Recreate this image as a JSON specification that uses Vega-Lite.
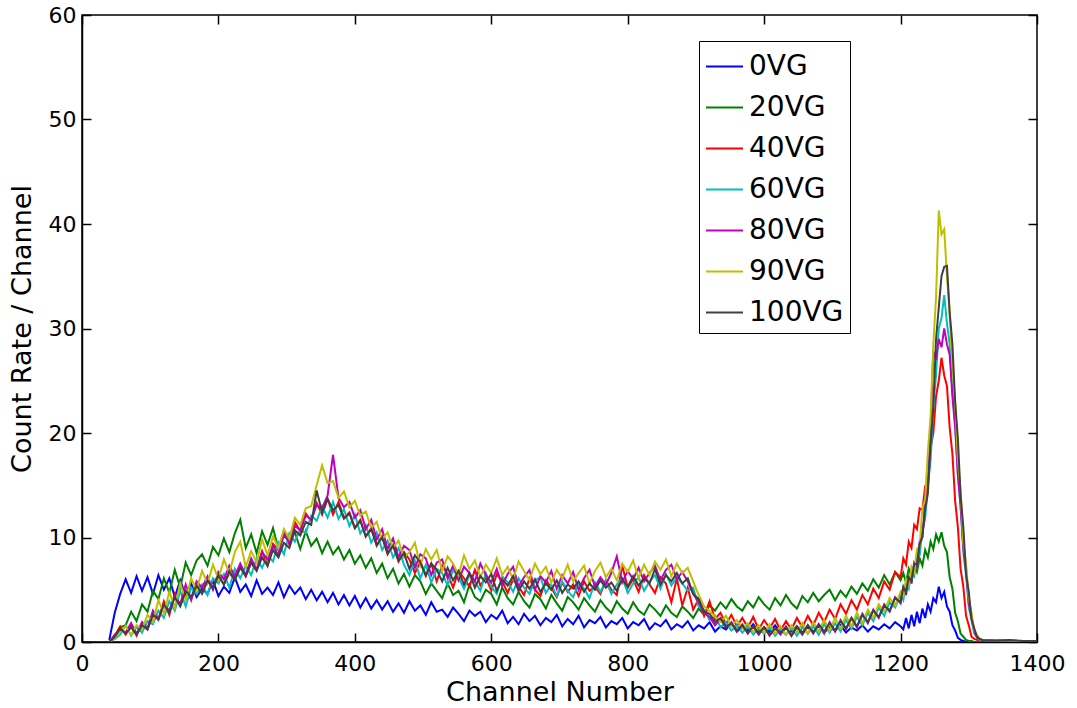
{
  "$schema": "https://vega.github.io/schema/vega-lite/v6.json",
  "width": 955,
  "height": 627,
  "autosize": {"type": "none"},
  "padding": {"left": 82, "top": 15, "right": 40, "bottom": 66},
  "background": "white",
  "config": {
    "view": {"stroke": "black", "strokeWidth": 1.5},
    "font": "DejaVu Sans",
    "axis": {
      "grid": false,
      "domainColor": "black",
      "domainWidth": 1.5,
      "tickColor": "black",
      "tickWidth": 1.5,
      "tickSize": -9,
      "labelColor": "black",
      "titleColor": "black",
      "labelFont": "DejaVu Sans",
      "titleFont": "DejaVu Sans",
      "labelFontSize": 22,
      "titleFontSize": 27,
      "titleFontWeight": "normal",
      "labelFlush": false,
      "labelOverlap": false
    },
    "axisX": {"labelPadding": 20, "titlePadding": 5},
    "axisY": {"labelPadding": 15, "titlePadding": 12},
    "legend": {"strokeWidth": 1}
  },
  "data": {
    "values": [
      {"ch":40,"0VG":0.2,"20VG":0,"40VG":0,"60VG":0,"80VG":0,"90VG":0,"100VG":0},
      {"ch":48,"0VG":2.8,"20VG":0.5,"40VG":0.6,"60VG":0.3,"80VG":0.7,"90VG":0.4,"100VG":0.5},
      {"ch":56,"0VG":4.6,"20VG":1.4,"40VG":1.5,"60VG":0.7,"80VG":1.2,"90VG":1.0,"100VG":1.3},
      {"ch":64,"0VG":6.0,"20VG":1.6,"40VG":0.7,"60VG":1.6,"80VG":0.9,"90VG":1.5,"100VG":0.8},
      {"ch":72,"0VG":4.7,"20VG":2.9,"40VG":1.6,"60VG":0.6,"80VG":1.8,"90VG":0.7,"100VG":1.4},
      {"ch":80,"0VG":6.3,"20VG":2.0,"40VG":0.6,"60VG":1.5,"80VG":0.8,"90VG":1.6,"100VG":0.7},
      {"ch":88,"0VG":4.9,"20VG":3.6,"40VG":1.8,"60VG":0.9,"80VG":1.9,"90VG":1.2,"100VG":1.6},
      {"ch":96,"0VG":6.2,"20VG":2.9,"40VG":1.2,"60VG":2.0,"80VG":1.3,"90VG":2.6,"100VG":1.2},
      {"ch":104,"0VG":4.6,"20VG":4.9,"40VG":2.7,"60VG":1.7,"80VG":3.0,"90VG":1.9,"100VG":2.6},
      {"ch":112,"0VG":6.4,"20VG":4.1,"40VG":2.1,"60VG":3.0,"80VG":2.2,"90VG":4.0,"100VG":2.2},
      {"ch":120,"0VG":5.0,"20VG":6.1,"40VG":3.9,"60VG":2.3,"80VG":3.6,"90VG":2.7,"100VG":3.6},
      {"ch":128,"0VG":6.1,"20VG":4.7,"40VG":2.6,"60VG":3.9,"80VG":3.0,"90VG":4.8,"100VG":2.8},
      {"ch":136,"0VG":4.3,"20VG":6.9,"40VG":4.6,"60VG":3.0,"80VG":4.4,"90VG":3.3,"100VG":4.3},
      {"ch":144,"0VG":5.9,"20VG":5.2,"40VG":3.5,"60VG":4.9,"80VG":3.6,"90VG":5.6,"100VG":3.4},
      {"ch":152,"0VG":4.4,"20VG":7.6,"40VG":4.8,"60VG":3.4,"80VG":5.5,"90VG":4.0,"100VG":4.9},
      {"ch":160,"0VG":5.6,"20VG":6.4,"40VG":4.1,"60VG":5.2,"80VG":4.0,"90VG":6.1,"100VG":4.3},
      {"ch":168,"0VG":4.3,"20VG":7.8,"40VG":5.6,"60VG":4.6,"80VG":5.8,"90VG":5.0,"100VG":5.4},
      {"ch":176,"0VG":5.1,"20VG":8.4,"40VG":4.7,"60VG":5.5,"80VG":5.2,"90VG":6.8,"100VG":4.6},
      {"ch":184,"0VG":4.6,"20VG":7.3,"40VG":5.9,"60VG":4.5,"80VG":6.3,"90VG":5.6,"100VG":5.9},
      {"ch":192,"0VG":5.9,"20VG":9.1,"40VG":5.2,"60VG":6.1,"80VG":5.0,"90VG":7.4,"100VG":5.1},
      {"ch":200,"0VG":4.4,"20VG":8.3,"40VG":6.3,"60VG":5.6,"80VG":6.7,"90VG":6.0,"100VG":6.4},
      {"ch":208,"0VG":5.3,"20VG":9.9,"40VG":5.5,"60VG":6.5,"80VG":6.0,"90VG":7.9,"100VG":5.5},
      {"ch":216,"0VG":4.7,"20VG":8.6,"40VG":6.6,"60VG":5.2,"80VG":7.3,"90VG":6.6,"100VG":6.8},
      {"ch":224,"0VG":6.2,"20VG":10.4,"40VG":6.0,"60VG":7.0,"80VG":6.3,"90VG":8.6,"100VG":5.9},
      {"ch":232,"0VG":4.8,"20VG":11.7,"40VG":7.4,"60VG":6.1,"80VG":7.5,"90VG":9.6,"100VG":7.1},
      {"ch":240,"0VG":5.5,"20VG":9.0,"40VG":6.3,"60VG":7.3,"80VG":6.4,"90VG":7.2,"100VG":6.3},
      {"ch":248,"0VG":4.4,"20VG":10.3,"40VG":7.6,"60VG":6.4,"80VG":8.0,"90VG":8.7,"100VG":7.6},
      {"ch":256,"0VG":5.9,"20VG":8.5,"40VG":6.9,"60VG":8.0,"80VG":6.9,"90VG":7.6,"100VG":6.8},
      {"ch":264,"0VG":4.6,"20VG":10.6,"40VG":8.7,"60VG":7.1,"80VG":8.6,"90VG":9.8,"100VG":8.1},
      {"ch":272,"0VG":5.2,"20VG":9.3,"40VG":7.3,"60VG":8.3,"80VG":7.9,"90VG":8.3,"100VG":7.3},
      {"ch":280,"0VG":4.5,"20VG":10.9,"40VG":9.4,"60VG":7.7,"80VG":9.2,"90VG":10.1,"100VG":8.8},
      {"ch":288,"0VG":5.7,"20VG":8.9,"40VG":8.8,"60VG":9.5,"80VG":8.3,"90VG":9.0,"100VG":8.1},
      {"ch":296,"0VG":4.3,"20VG":10.2,"40VG":10.6,"60VG":8.4,"80VG":10.4,"90VG":10.8,"100VG":9.5},
      {"ch":304,"0VG":5.4,"20VG":9.6,"40VG":9.3,"60VG":10.4,"80VG":9.5,"90VG":9.9,"100VG":9.0},
      {"ch":312,"0VG":4.6,"20VG":10.5,"40VG":11.5,"60VG":9.6,"80VG":11.1,"90VG":11.9,"100VG":10.7},
      {"ch":320,"0VG":5.2,"20VG":8.9,"40VG":10.6,"60VG":10.8,"80VG":10.7,"90VG":11.2,"100VG":10.2},
      {"ch":328,"0VG":4.1,"20VG":10.6,"40VG":12.3,"60VG":10.4,"80VG":12.1,"90VG":12.8,"100VG":11.5},
      {"ch":336,"0VG":5.0,"20VG":9.2,"40VG":11.6,"60VG":12.1,"80VG":11.7,"90VG":13.0,"100VG":11.2},
      {"ch":344,"0VG":4.0,"20VG":9.9,"40VG":13.3,"60VG":11.6,"80VG":13.1,"90VG":15.0,"100VG":14.5},
      {"ch":352,"0VG":4.8,"20VG":8.5,"40VG":12.2,"60VG":13.0,"80VG":12.8,"90VG":16.9,"100VG":12.4},
      {"ch":360,"0VG":3.8,"20VG":9.6,"40VG":13.7,"60VG":11.9,"80VG":14.0,"90VG":15.2,"100VG":13.7},
      {"ch":368,"0VG":4.7,"20VG":8.4,"40VG":12.2,"60VG":13.4,"80VG":17.9,"90VG":15.4,"100VG":12.6},
      {"ch":376,"0VG":3.6,"20VG":9.1,"40VG":13.4,"60VG":11.8,"80VG":13.8,"90VG":13.8,"100VG":13.1},
      {"ch":384,"0VG":4.5,"20VG":7.9,"40VG":11.9,"60VG":12.7,"80VG":12.9,"90VG":14.4,"100VG":11.8},
      {"ch":392,"0VG":3.5,"20VG":8.8,"40VG":12.4,"60VG":11.1,"80VG":13.4,"90VG":12.9,"100VG":12.3},
      {"ch":400,"0VG":4.4,"20VG":7.5,"40VG":10.9,"60VG":12.2,"80VG":11.9,"90VG":13.5,"100VG":10.9},
      {"ch":408,"0VG":3.3,"20VG":8.3,"40VG":11.7,"60VG":10.4,"80VG":12.6,"90VG":12.1,"100VG":11.6},
      {"ch":416,"0VG":4.2,"20VG":7.1,"40VG":10.1,"60VG":11.2,"80VG":10.8,"90VG":12.5,"100VG":10.1},
      {"ch":424,"0VG":3.2,"20VG":8.0,"40VG":10.9,"60VG":9.5,"80VG":11.7,"90VG":10.9,"100VG":10.8},
      {"ch":432,"0VG":4.0,"20VG":6.6,"40VG":9.2,"60VG":10.5,"80VG":9.8,"90VG":11.5,"100VG":9.3},
      {"ch":440,"0VG":3.1,"20VG":7.5,"40VG":10.1,"60VG":8.8,"80VG":10.8,"90VG":9.8,"100VG":10.0},
      {"ch":448,"0VG":3.9,"20VG":6.1,"40VG":8.4,"60VG":9.7,"80VG":8.9,"90VG":10.5,"100VG":8.5},
      {"ch":456,"0VG":2.9,"20VG":7.0,"40VG":9.3,"60VG":8.1,"80VG":9.9,"90VG":9.0,"100VG":9.2},
      {"ch":464,"0VG":3.7,"20VG":5.6,"40VG":7.7,"60VG":9.0,"80VG":8.1,"90VG":9.7,"100VG":7.8},
      {"ch":472,"0VG":2.8,"20VG":6.5,"40VG":8.6,"60VG":7.4,"80VG":9.2,"90VG":8.1,"100VG":8.5},
      {"ch":480,"0VG":3.9,"20VG":5.3,"40VG":7.9,"60VG":6.4,"80VG":8.8,"90VG":8.6,"100VG":7.0},
      {"ch":488,"0VG":3.0,"20VG":6.4,"40VG":6.6,"60VG":7.8,"80VG":7.1,"90VG":9.5,"100VG":8.3},
      {"ch":496,"0VG":3.5,"20VG":5.8,"40VG":7.7,"60VG":6.1,"80VG":8.4,"90VG":7.3,"100VG":7.6},
      {"ch":504,"0VG":2.6,"20VG":4.6,"40VG":6.3,"60VG":7.4,"80VG":8.0,"90VG":8.9,"100VG":6.4},
      {"ch":512,"0VG":3.8,"20VG":5.6,"40VG":7.5,"60VG":5.7,"80VG":6.4,"90VG":7.9,"100VG":7.5},
      {"ch":520,"0VG":2.9,"20VG":4.9,"40VG":5.8,"60VG":7.0,"80VG":7.6,"90VG":8.8,"100VG":6.9},
      {"ch":528,"0VG":3.1,"20VG":4.2,"40VG":7.3,"60VG":6.6,"80VG":7.9,"90VG":6.8,"100VG":5.8},
      {"ch":536,"0VG":2.4,"20VG":5.6,"40VG":6.5,"60VG":5.4,"80VG":6.1,"90VG":8.2,"100VG":7.1},
      {"ch":544,"0VG":3.3,"20VG":4.5,"40VG":5.2,"60VG":6.9,"80VG":7.3,"90VG":7.5,"100VG":5.9},
      {"ch":552,"0VG":2.7,"20VG":4.9,"40VG":6.8,"60VG":6.2,"80VG":5.9,"90VG":6.4,"100VG":6.8},
      {"ch":560,"0VG":2.0,"20VG":3.8,"40VG":6.1,"60VG":5.1,"80VG":7.2,"90VG":8.3,"100VG":5.5},
      {"ch":568,"0VG":3.0,"20VG":5.5,"40VG":5.3,"60VG":6.4,"80VG":6.6,"90VG":7.0,"100VG":6.6},
      {"ch":576,"0VG":2.5,"20VG":4.3,"40VG":6.9,"60VG":5.8,"80VG":5.8,"90VG":7.8,"100VG":5.2},
      {"ch":584,"0VG":2.9,"20VG":3.9,"40VG":5.4,"60VG":4.9,"80VG":7.5,"90VG":6.2,"100VG":6.3},
      {"ch":592,"0VG":1.9,"20VG":5.0,"40VG":6.2,"60VG":6.6,"80VG":6.4,"90VG":7.4,"100VG":5.7},
      {"ch":600,"0VG":2.6,"20VG":4.6,"40VG":4.9,"60VG":5.3,"80VG":5.7,"90VG":6.6,"100VG":6.5},
      {"ch":608,"0VG":2.2,"20VG":3.6,"40VG":6.5,"60VG":4.6,"80VG":7.0,"90VG":8.0,"100VG":4.9},
      {"ch":616,"0VG":3.0,"20VG":5.2,"40VG":5.8,"60VG":6.3,"80VG":5.4,"90VG":6.4,"100VG":6.0},
      {"ch":624,"0VG":1.8,"20VG":4.2,"40VG":4.7,"60VG":5.7,"80VG":6.5,"90VG":7.2,"100VG":5.4},
      {"ch":632,"0VG":2.4,"20VG":3.6,"40VG":6.0,"60VG":4.8,"80VG":7.2,"90VG":6.0,"100VG":6.3},
      {"ch":640,"0VG":1.7,"20VG":4.8,"40VG":5.3,"60VG":6.1,"80VG":5.3,"90VG":7.7,"100VG":4.9},
      {"ch":648,"0VG":2.7,"20VG":3.9,"40VG":4.5,"60VG":5.2,"80VG":6.2,"90VG":6.8,"100VG":5.8},
      {"ch":656,"0VG":2.0,"20VG":3.3,"40VG":6.1,"60VG":4.6,"80VG":6.9,"90VG":5.9,"100VG":5.1},
      {"ch":664,"0VG":2.5,"20VG":4.6,"40VG":5.0,"60VG":5.9,"80VG":5.0,"90VG":7.5,"100VG":6.0},
      {"ch":672,"0VG":1.6,"20VG":4.1,"40VG":4.4,"60VG":6.2,"80VG":6.3,"90VG":6.5,"100VG":4.8},
      {"ch":680,"0VG":2.3,"20VG":3.2,"40VG":5.9,"60VG":4.7,"80VG":5.7,"90VG":7.2,"100VG":5.6},
      {"ch":688,"0VG":1.9,"20VG":4.5,"40VG":5.2,"60VG":5.5,"80VG":6.8,"90VG":5.7,"100VG":5.0},
      {"ch":696,"0VG":2.6,"20VG":3.7,"40VG":4.3,"60VG":4.4,"80VG":5.1,"90VG":6.9,"100VG":5.9},
      {"ch":704,"0VG":1.5,"20VG":3.0,"40VG":5.7,"60VG":5.8,"80VG":6.4,"90VG":6.1,"100VG":4.7},
      {"ch":712,"0VG":2.2,"20VG":4.3,"40VG":4.8,"60VG":4.9,"80VG":5.6,"90VG":7.4,"100VG":5.5},
      {"ch":720,"0VG":1.7,"20VG":3.8,"40VG":5.5,"60VG":4.3,"80VG":6.7,"90VG":5.8,"100VG":5.1},
      {"ch":728,"0VG":2.5,"20VG":3.1,"40VG":4.4,"60VG":5.6,"80VG":5.0,"90VG":6.6,"100VG":5.8},
      {"ch":736,"0VG":1.4,"20VG":4.2,"40VG":5.8,"60VG":5.1,"80VG":6.1,"90VG":7.3,"100VG":4.8},
      {"ch":744,"0VG":2.1,"20VG":3.5,"40VG":4.9,"60VG":4.2,"80VG":6.9,"90VG":5.6,"100VG":5.6},
      {"ch":752,"0VG":1.8,"20VG":2.9,"40VG":5.3,"60VG":5.7,"80VG":5.3,"90VG":6.8,"100VG":5.0},
      {"ch":760,"0VG":2.4,"20VG":4.0,"40VG":4.6,"60VG":4.8,"80VG":6.2,"90VG":7.6,"100VG":5.9},
      {"ch":768,"0VG":1.4,"20VG":3.3,"40VG":5.9,"60VG":5.9,"80VG":5.5,"90VG":6.2,"100VG":5.2},
      {"ch":776,"0VG":2.0,"20VG":2.8,"40VG":5.0,"60VG":4.6,"80VG":6.6,"90VG":7.0,"100VG":5.7},
      {"ch":784,"0VG":1.7,"20VG":3.9,"40VG":4.5,"60VG":5.5,"80VG":8.2,"90VG":5.9,"100VG":4.9},
      {"ch":792,"0VG":2.3,"20VG":3.2,"40VG":7.3,"60VG":6.1,"80VG":5.7,"90VG":7.5,"100VG":6.0},
      {"ch":800,"0VG":1.3,"20VG":2.7,"40VG":5.2,"60VG":4.7,"80VG":6.8,"90VG":6.7,"100VG":5.3},
      {"ch":808,"0VG":1.9,"20VG":3.8,"40VG":6.0,"60VG":5.6,"80VG":6.0,"90VG":7.8,"100VG":6.3},
      {"ch":816,"0VG":1.6,"20VG":3.0,"40VG":4.8,"60VG":6.2,"80VG":7.1,"90VG":6.1,"100VG":5.4},
      {"ch":824,"0VG":2.2,"20VG":2.6,"40VG":6.4,"60VG":4.9,"80VG":5.8,"90VG":7.4,"100VG":6.1},
      {"ch":832,"0VG":1.2,"20VG":3.6,"40VG":5.5,"60VG":5.8,"80VG":6.6,"90VG":6.4,"100VG":5.6},
      {"ch":840,"0VG":1.8,"20VG":3.1,"40VG":4.7,"60VG":6.4,"80VG":7.3,"90VG":7.7,"100VG":7.0},
      {"ch":848,"0VG":1.5,"20VG":2.5,"40VG":6.2,"60VG":5.1,"80VG":5.9,"90VG":6.9,"100VG":5.5},
      {"ch":856,"0VG":2.1,"20VG":3.5,"40VG":5.6,"60VG":6.5,"80VG":6.9,"90VG":7.9,"100VG":6.4},
      {"ch":864,"0VG":1.2,"20VG":2.8,"40VG":3.8,"60VG":5.4,"80VG":7.4,"90VG":6.3,"100VG":5.8},
      {"ch":872,"0VG":1.7,"20VG":2.4,"40VG":6.1,"60VG":6.2,"80VG":6.0,"90VG":7.5,"100VG":6.6},
      {"ch":880,"0VG":1.4,"20VG":3.4,"40VG":3.5,"60VG":5.6,"80VG":6.7,"90VG":6.6,"100VG":5.6},
      {"ch":888,"0VG":2.0,"20VG":2.9,"40VG":5.2,"60VG":4.9,"80VG":5.8,"90VG":7.1,"100VG":6.1},
      {"ch":896,"0VG":1.1,"20VG":2.3,"40VG":3.1,"60VG":5.2,"80VG":4.6,"90VG":5.8,"100VG":4.6},
      {"ch":904,"0VG":1.6,"20VG":3.2,"40VG":4.1,"60VG":3.4,"80VG":3.8,"90VG":4.5,"100VG":4.1},
      {"ch":912,"0VG":1.3,"20VG":2.6,"40VG":2.5,"60VG":3.1,"80VG":2.8,"90VG":3.4,"100VG":2.9},
      {"ch":920,"0VG":1.9,"20VG":3.5,"40VG":3.9,"60VG":2.1,"80VG":2.4,"90VG":3.0,"100VG":2.7},
      {"ch":928,"0VG":1.0,"20VG":3.0,"40VG":2.2,"60VG":2.5,"80VG":1.6,"90VG":2.4,"100VG":1.9},
      {"ch":936,"0VG":1.5,"20VG":3.8,"40VG":2.8,"60VG":1.4,"80VG":2.2,"90VG":1.9,"100VG":2.3},
      {"ch":944,"0VG":1.2,"20VG":3.2,"40VG":1.7,"60VG":1.9,"80VG":1.4,"90VG":2.5,"100VG":1.4},
      {"ch":952,"0VG":1.8,"20VG":4.1,"40VG":2.6,"60VG":1.1,"80VG":1.9,"90VG":1.5,"100VG":1.8},
      {"ch":960,"0VG":1.0,"20VG":3.4,"40VG":1.5,"60VG":1.6,"80VG":1.0,"90VG":2.1,"100VG":1.1},
      {"ch":968,"0VG":1.4,"20VG":3.0,"40VG":2.3,"60VG":0.9,"80VG":1.7,"90VG":1.3,"100VG":1.6},
      {"ch":976,"0VG":1.1,"20VG":3.9,"40VG":1.4,"60VG":1.5,"80VG":0.8,"90VG":1.8,"100VG":0.9},
      {"ch":984,"0VG":1.7,"20VG":3.3,"40VG":2.4,"60VG":0.7,"80VG":1.5,"90VG":1.0,"100VG":1.5},
      {"ch":992,"0VG":0.9,"20VG":4.3,"40VG":1.2,"60VG":1.3,"80VG":0.7,"90VG":1.6,"100VG":0.8},
      {"ch":1000,"0VG":1.4,"20VG":3.6,"40VG":2.1,"60VG":0.8,"80VG":1.4,"90VG":0.9,"100VG":1.4},
      {"ch":1008,"0VG":1.0,"20VG":3.1,"40VG":1.3,"60VG":1.4,"80VG":0.6,"90VG":1.7,"100VG":0.7},
      {"ch":1016,"0VG":1.6,"20VG":4.2,"40VG":2.2,"60VG":0.6,"80VG":1.3,"90VG":0.8,"100VG":1.3},
      {"ch":1024,"0VG":0.9,"20VG":3.5,"40VG":1.1,"60VG":1.2,"80VG":0.7,"90VG":1.5,"100VG":0.9},
      {"ch":1032,"0VG":1.3,"20VG":4.5,"40VG":2.0,"60VG":0.7,"80VG":1.5,"90VG":0.7,"100VG":1.4},
      {"ch":1040,"0VG":1.0,"20VG":3.7,"40VG":1.2,"60VG":1.3,"80VG":0.6,"90VG":1.6,"100VG":0.6},
      {"ch":1048,"0VG":1.5,"20VG":3.2,"40VG":2.3,"60VG":0.6,"80VG":1.4,"90VG":0.9,"100VG":1.5},
      {"ch":1056,"0VG":0.9,"20VG":4.4,"40VG":1.4,"60VG":1.4,"80VG":0.7,"90VG":1.8,"100VG":0.8},
      {"ch":1064,"0VG":1.4,"20VG":3.8,"40VG":2.5,"60VG":0.8,"80VG":1.6,"90VG":0.8,"100VG":1.6},
      {"ch":1072,"0VG":1.0,"20VG":4.7,"40VG":1.6,"60VG":1.5,"80VG":0.8,"90VG":1.9,"100VG":0.9},
      {"ch":1080,"0VG":1.5,"20VG":3.9,"40VG":2.8,"60VG":0.7,"80VG":1.7,"90VG":1.0,"100VG":1.7},
      {"ch":1088,"0VG":0.9,"20VG":4.5,"40VG":1.9,"60VG":1.7,"80VG":0.8,"90VG":2.1,"100VG":1.0},
      {"ch":1096,"0VG":1.4,"20VG":5.0,"40VG":3.1,"60VG":0.9,"80VG":1.9,"90VG":1.1,"100VG":1.8},
      {"ch":1104,"0VG":1.1,"20VG":4.0,"40VG":2.2,"60VG":1.8,"80VG":1.0,"90VG":2.3,"100VG":1.1},
      {"ch":1112,"0VG":1.6,"20VG":4.9,"40VG":3.6,"60VG":1.0,"80VG":2.1,"90VG":1.3,"100VG":2.0},
      {"ch":1120,"0VG":0.9,"20VG":4.3,"40VG":2.7,"60VG":2.1,"80VG":1.2,"90VG":2.5,"100VG":1.3},
      {"ch":1128,"0VG":1.4,"20VG":5.3,"40VG":4.0,"60VG":1.3,"80VG":2.3,"90VG":1.5,"100VG":2.3},
      {"ch":1136,"0VG":1.1,"20VG":4.6,"40VG":3.1,"60VG":2.4,"80VG":1.4,"90VG":2.8,"100VG":1.5},
      {"ch":1144,"0VG":1.6,"20VG":5.6,"40VG":4.5,"60VG":1.6,"80VG":2.7,"90VG":1.8,"100VG":2.6},
      {"ch":1152,"0VG":1.0,"20VG":4.9,"40VG":3.6,"60VG":2.8,"80VG":1.8,"90VG":3.1,"100VG":1.9},
      {"ch":1160,"0VG":1.5,"20VG":6.0,"40VG":5.1,"60VG":2.0,"80VG":3.1,"90VG":2.3,"100VG":3.0},
      {"ch":1168,"0VG":1.2,"20VG":5.2,"40VG":4.2,"60VG":3.3,"80VG":2.3,"90VG":3.6,"100VG":2.4},
      {"ch":1176,"0VG":1.7,"20VG":6.4,"40VG":5.8,"60VG":2.5,"80VG":3.6,"90VG":2.9,"100VG":3.5},
      {"ch":1184,"0VG":1.3,"20VG":5.5,"40VG":5.0,"60VG":3.8,"80VG":2.9,"90VG":4.2,"100VG":3.0},
      {"ch":1192,"0VG":1.9,"20VG":6.7,"40VG":6.7,"60VG":3.3,"80VG":4.3,"90VG":3.5,"100VG":4.2},
      {"ch":1200,"0VG":1.5,"20VG":5.9,"40VG":6.2,"60VG":4.5,"80VG":3.7,"90VG":4.8,"100VG":3.8},
      {"ch":1204,"0VG":1.2,"20VG":6.6,"40VG":8.0,"60VG":4.0,"80VG":5.3,"90VG":4.4,"100VG":5.3},
      {"ch":1208,"0VG":2.3,"20VG":5.7,"40VG":7.4,"60VG":5.6,"80VG":4.5,"90VG":6.0,"100VG":4.7},
      {"ch":1212,"0VG":1.3,"20VG":7.0,"40VG":9.6,"60VG":5.1,"80VG":6.3,"90VG":5.4,"100VG":6.2},
      {"ch":1216,"0VG":2.6,"20VG":6.2,"40VG":9.0,"60VG":6.7,"80VG":5.6,"90VG":7.2,"100VG":5.8},
      {"ch":1220,"0VG":1.5,"20VG":7.4,"40VG":11.2,"60VG":6.3,"80VG":7.6,"90VG":6.7,"100VG":7.5},
      {"ch":1224,"0VG":2.9,"20VG":6.7,"40VG":10.8,"60VG":8.1,"80VG":7.2,"90VG":8.9,"100VG":7.4},
      {"ch":1228,"0VG":1.8,"20VG":8.0,"40VG":12.8,"60VG":8.3,"80VG":9.6,"90VG":9.2,"100VG":9.4},
      {"ch":1232,"0VG":3.2,"20VG":7.3,"40VG":12.6,"60VG":10.6,"80VG":10.0,"90VG":12.8,"100VG":10.1},
      {"ch":1236,"0VG":2.3,"20VG":8.8,"40VG":14.9,"60VG":11.8,"80VG":13.5,"90VG":13.6,"100VG":12.7},
      {"ch":1240,"0VG":3.6,"20VG":8.1,"40VG":15.4,"60VG":15.0,"80VG":15.0,"90VG":18.2,"100VG":14.2},
      {"ch":1244,"0VG":2.9,"20VG":9.6,"40VG":18.5,"60VG":17.4,"80VG":20.5,"90VG":21.5,"100VG":19.0},
      {"ch":1248,"0VG":4.2,"20VG":8.9,"40VG":20.0,"60VG":22.5,"80VG":27.8,"90VG":28.5,"100VG":22.5},
      {"ch":1252,"0VG":3.8,"20VG":10.3,"40VG":23.5,"60VG":25.5,"80VG":27.0,"90VG":33.0,"100VG":29.0},
      {"ch":1256,"0VG":5.3,"20VG":9.6,"40VG":25.0,"60VG":30.0,"80VG":29.0,"90VG":41.3,"100VG":32.0},
      {"ch":1260,"0VG":4.2,"20VG":10.5,"40VG":27.2,"60VG":31.0,"80VG":28.2,"90VG":39.0,"100VG":35.0},
      {"ch":1264,"0VG":4.8,"20VG":9.2,"40VG":25.5,"60VG":33.2,"80VG":30.0,"90VG":39.5,"100VG":35.9},
      {"ch":1268,"0VG":3.4,"20VG":8.6,"40VG":24.5,"60VG":30.5,"80VG":28.5,"90VG":35.0,"100VG":36.0},
      {"ch":1272,"0VG":2.9,"20VG":6.2,"40VG":20.5,"60VG":28.5,"80VG":27.5,"90VG":31.5,"100VG":31.5},
      {"ch":1276,"0VG":1.6,"20VG":5.1,"40VG":18.0,"60VG":24.0,"80VG":23.5,"90VG":26.5,"100VG":28.5},
      {"ch":1280,"0VG":1.1,"20VG":2.8,"40VG":13.5,"60VG":21.0,"80VG":20.5,"90VG":23.0,"100VG":23.0},
      {"ch":1284,"0VG":0.4,"20VG":2.0,"40VG":11.0,"60VG":16.0,"80VG":16.0,"90VG":17.5,"100VG":19.5},
      {"ch":1288,"0VG":0.2,"20VG":0.8,"40VG":7.0,"60VG":13.0,"80VG":13.0,"90VG":14.5,"100VG":14.0},
      {"ch":1292,"0VG":0.1,"20VG":0.5,"40VG":5.3,"60VG":8.5,"80VG":9.0,"90VG":9.5,"100VG":11.0},
      {"ch":1296,"0VG":0,"20VG":0.2,"40VG":2.5,"60VG":6.4,"80VG":7.0,"90VG":7.5,"100VG":6.5},
      {"ch":1300,"0VG":0,"20VG":0.1,"40VG":1.6,"60VG":3.3,"80VG":3.7,"90VG":4.2,"100VG":4.8},
      {"ch":1304,"0VG":0,"20VG":0.1,"40VG":0.5,"60VG":2.1,"80VG":2.4,"90VG":2.8,"100VG":2.2},
      {"ch":1308,"0VG":0,"20VG":0,"40VG":0.3,"60VG":0.8,"80VG":1.0,"90VG":1.1,"100VG":1.3},
      {"ch":1312,"0VG":0,"20VG":0,"40VG":0.2,"60VG":0.5,"80VG":0.4,"90VG":0.7,"100VG":0.5},
      {"ch":1316,"0VG":0,"20VG":0,"40VG":0.1,"60VG":0.2,"80VG":0.3,"90VG":0.3,"100VG":0.3},
      {"ch":1320,"0VG":0,"20VG":0,"40VG":0.1,"60VG":0.2,"80VG":0.2,"90VG":0.2,"100VG":0.2},
      {"ch":1340,"0VG":0,"20VG":0,"40VG":0.1,"60VG":0.1,"80VG":0.15,"90VG":0.2,"100VG":0.15},
      {"ch":1360,"0VG":0,"20VG":0,"40VG":0.05,"60VG":0.1,"80VG":0.1,"90VG":0.15,"100VG":0.2},
      {"ch":1380,"0VG":0,"20VG":0,"40VG":0.1,"60VG":0.05,"80VG":0.1,"90VG":0.1,"100VG":0.1},
      {"ch":1400,"0VG":0,"20VG":0,"40VG":0.05,"60VG":0.1,"80VG":0.1,"90VG":0.1,"100VG":0.1}
    ]
  },
  "transform": [
    {"fold": ["0VG", "20VG", "40VG", "60VG", "80VG", "90VG", "100VG"], "as": ["series", "rate"]}
  ],
  "layer": [
    {
      "mark": {"type": "line", "strokeWidth": 2, "clip": true},
      "encoding": {
        "x": {
          "field": "ch", "type": "quantitative",
          "scale": {"domain": [0, 1400], "nice": false, "zero": false},
          "axis": {"title": "Channel Number", "format": "d", "values": [0, 200, 400, 600, 800, 1000, 1200, 1400], "orient": "bottom"}
        },
        "y": {
          "field": "rate", "type": "quantitative",
          "scale": {"domain": [0, 60], "nice": false},
          "axis": {"title": "Count Rate / Channel", "format": "d", "values": [0, 10, 20, 30, 40, 50, 60], "orient": "left"}
        },
        "color": {
          "field": "series", "type": "nominal",
          "scale": {
            "domain": ["0VG", "20VG", "40VG", "60VG", "80VG", "90VG", "100VG"],
            "range": ["#0000ff", "#008000", "#ff0000", "#00bfbf", "#bf00bf", "#bfbf00", "#404040"]
          },
          "legend": {
            "title": null,
            "orient": "none",
            "legendX": 617,
            "legendY": 26,
            "symbolType": "stroke",
            "symbolSize": 1369,
            "symbolStrokeWidth": 2,
            "labelFont": "DejaVu Sans",
            "labelFontSize": 28,
            "labelColor": "black",
            "labelOffset": 5,
            "labelLimit": 300,
            "rowPadding": 7,
            "padding": 6,
            "strokeColor": "black",
            "fillColor": "white",
            "cornerRadius": 0
          }
        }
      }
    },
    {
      "mark": {"type": "line", "opacity": 0},
      "encoding": {
        "x": {
          "field": "ch", "type": "quantitative",
          "axis": {"orient": "top", "title": null, "labels": false, "domain": false, "values": [0, 200, 400, 600, 800, 1000, 1200, 1400]}
        },
        "y": {
          "field": "rate", "type": "quantitative",
          "axis": {"orient": "right", "title": null, "labels": false, "domain": false, "values": [0, 10, 20, 30, 40, 50, 60]}
        }
      }
    }
  ],
  "resolve": {"axis": {"x": "independent", "y": "independent"}}
}
